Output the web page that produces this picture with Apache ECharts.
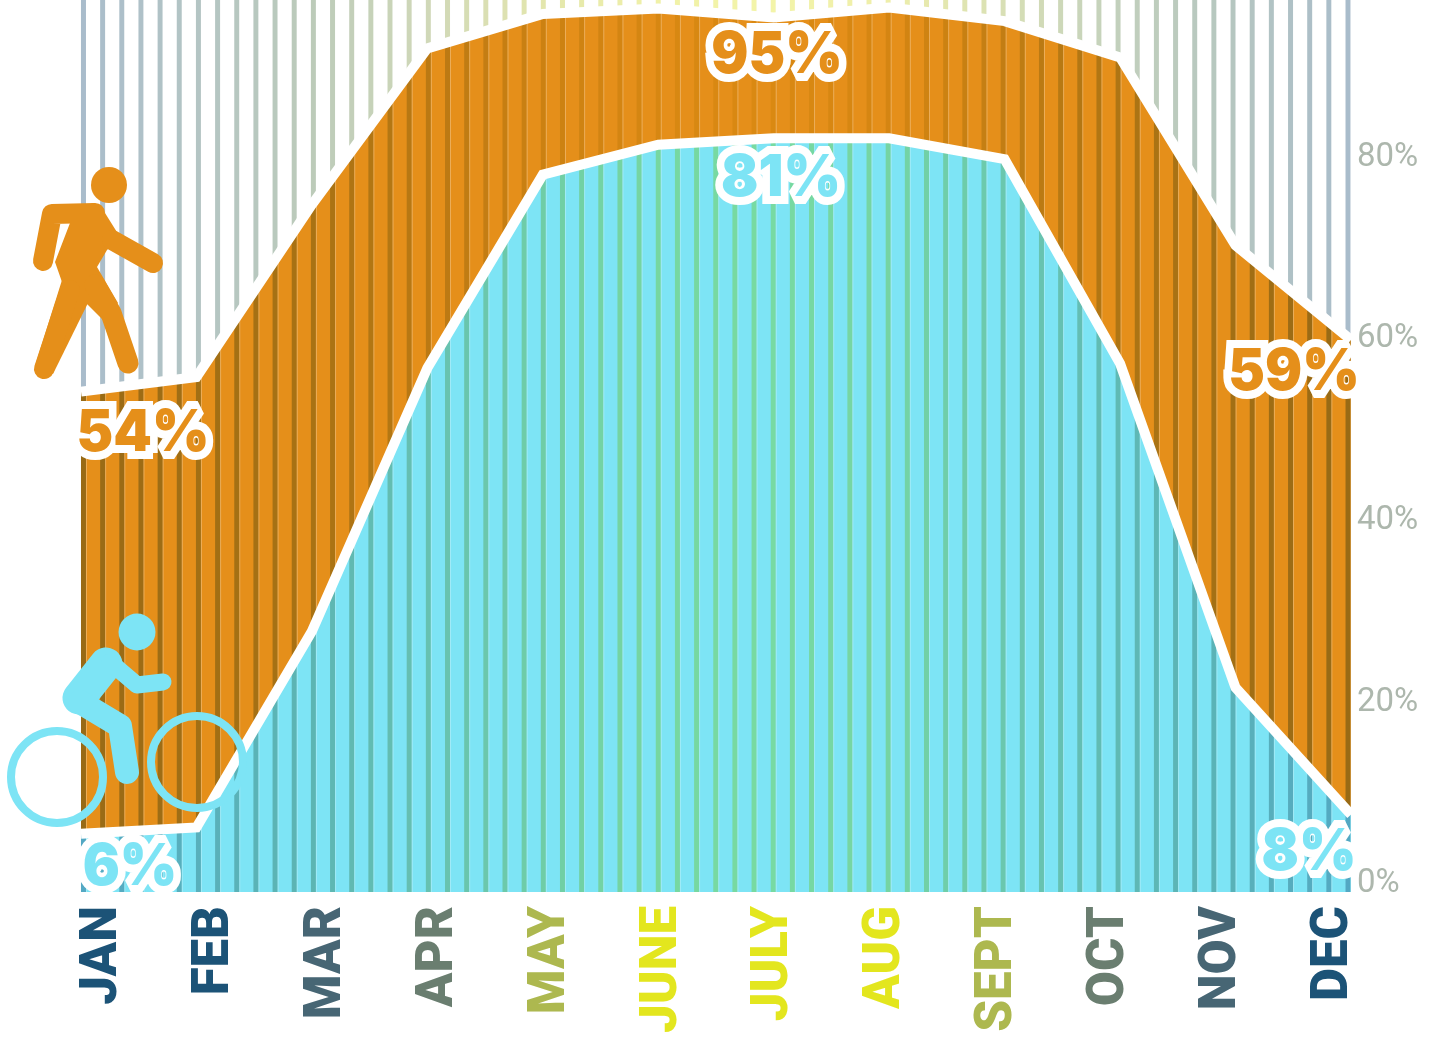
<!DOCTYPE html>
<html>
<head>
<meta charset="utf-8">
<style>
html,body{margin:0;padding:0;background:#fff}
#main{width:1437px;height:1044px}
</style>
<script src="https://cdn.jsdelivr.net/npm/echarts@6/dist/echarts.min.js"></script>
</head>
<body>
<div id="main"></div>
<script>
var months=['JAN','FEB','MAR','APR','MAY','JUNE','JULY','AUG','SEPT','OCT','NOV','DEC']
var walkValues=[53.9,55.5,74.5,91.7,95.5,96.1,95.1,96.2,94.7,90.7,70,59.6]
var bikeValues=[5.2,5.9,27.5,56.5,77.8,81.1,81.8,81.8,79.5,57,21.3,7.3]
var yTicks=[0,20,40,60,80]
var monthColours=['#1c5377','#1c5377','#476674','#6a7e70','#adb84f','#e3e61e','#e3e61e','#e3e61e','#adb84f','#6a7e70','#476674','#1c5377']
var stripeAnchors=['#a9bccb','#b4c5c4','#bccbb9','#d0d8b8','#e3e6ad','#f0f1a8','#f3f4a9','#eeeeaa','#d8dfb5','#c2d0bc','#b5c6c0','#a9bccb']
var stripeCount=67
var orange='#e58f1a'
var cyan='#7de4f5'

var stripeCats=[]
var stripeHeights=[]
for(var i=0;i<stripeCount;i++){
	stripeCats[i]=i
	stripeHeights[i]=100
}
function hex(c){
	return [parseInt(c.substr(1,2),16),parseInt(c.substr(3,2),16),parseInt(c.substr(5,2),16)]
}
//stripe colour runs between the anchors, one per month
function stripeColour(p){
	var t=p.dataIndex/(stripeCount-1)*(months.length-1)
	var a=Math.floor(t)
	var b=Math.min(a+1,months.length-1)
	var ca=hex(stripeAnchors[a]),cb=hex(stripeAnchors[b])
	var f=t-a
	return 'rgb('+Math.round(ca[0]+(cb[0]-ca[0])*f)+','+Math.round(ca[1]+(cb[1]-ca[1])*f)+','+Math.round(ca[2]+(cb[2]-ca[2])*f)+')'
}
function pct(text,x,y,color){
	return {type:'text',x:x,y:y,z:20,scaleX:0.95,style:{text:text,fill:color,stroke:'#fff',lineWidth:16,strokeFirst:true,
		font:'900 58px Inter',textAlign:'center',textVerticalAlign:'middle'}}
}
function limb(points,width,color){
	return {type:'polyline',z:15,shape:{points:points},style:{fill:null,stroke:color,lineWidth:width,lineCap:'round',lineJoin:'round'}}
}
function blob(points,color){
	return {type:'polygon',z:15,shape:{points:points},style:{fill:color}}
}
function ring(x,y){
	return {type:'circle',z:15,shape:{cx:x,cy:y,r:46},style:{fill:null,stroke:cyan,lineWidth:8}}
}
function dot(x,y,r,color){
	return {type:'circle',z:15,shape:{cx:x,cy:y,r:r},style:{fill:color}}
}
var mychart=echarts.init(document.getElementById('main'))
var option={
	animation:false,
	backgroundColor:'#fff',
	grid:[
		{left:81,top:0,width:1270,height:892},
		{left:74.4,top:0,width:1283.7,height:892},
		{left:103,top:800,width:1231.5,height:92}
	],
	xAxis:[
		{gridIndex:0,type:'category',boundaryGap:false,data:months,show:false},
		{gridIndex:1,type:'category',data:stripeCats,show:false},
		{gridIndex:2,type:'category',boundaryGap:false,data:months,
			axisLine:{show:false},axisTick:{show:false},
			axisLabel:{interval:0,rotate:90,margin:14,fontFamily:'Roboto',fontWeight:900,fontSize:51,
				textBorderWidth:2.5,textBorderColor:'inherit',
				color:function(v,i){return monthColours[i]}}}
	],
	yAxis:[
		{gridIndex:0,type:'value',position:'right',min:-1.21,max:97.03,
			axisLine:{show:false},axisTick:{show:false},splitLine:{show:false},
			axisLabel:{customValues:yTicks,formatter:'{value}%',margin:6,verticalAlign:'top',lineHeight:6,color:'#adb7ad',fontFamily:'Roboto',fontWeight:400,fontSize:33}},
		{gridIndex:1,type:'value',min:0,max:100,show:false},
		{gridIndex:2,type:'value',show:false}
	],
	series:[
		{name:'walk',type:'line',xAxisIndex:0,yAxisIndex:0,data:walkValues,z:1,symbol:'none',
			lineStyle:{width:0},areaStyle:{color:orange,opacity:1,origin:'start'}},
		{name:'bike',type:'line',xAxisIndex:0,yAxisIndex:0,data:bikeValues,z:2,symbol:'none',
			lineStyle:{width:0},areaStyle:{color:cyan,opacity:1,origin:'start'}},
		{name:'stripes',type:'bar',xAxisIndex:1,yAxisIndex:1,data:stripeHeights,z:3,barWidth:5,barGap:0,
			blendMode:'multiply',itemStyle:{color:stripeColour}},
		{name:'stripes light',type:'bar',xAxisIndex:1,yAxisIndex:1,data:stripeHeights,z:4,barWidth:1,barGap:0,
			itemStyle:{color:'rgba(255,255,255,0.28)'}},
		{name:'walk line',type:'line',xAxisIndex:0,yAxisIndex:0,data:walkValues,z:5,symbol:'none',
			lineStyle:{color:'#fff',width:10,join:'miter',cap:'butt'}},
		{name:'bike line',type:'line',xAxisIndex:0,yAxisIndex:0,data:bikeValues,z:5,symbol:'none',
			lineStyle:{color:'#fff',width:10,join:'miter',cap:'butt'}}
	],
	graphic:[
		pct('54%',143,434,orange),
		pct('95%',777,56,orange),
		pct('81%',781,179,cyan),
		pct('59%',1294,373,orange),
		pct('6%',130,868,cyan),
		pct('8%',1309,853,cyan),
		//walker
		dot(109,185,18,orange),
		limb([[95,213],[52,214],[43,261]],20,orange),
		blob([[92,203],[100,205],[120,237],[107,250],[97,267],[118,303],[103,320],[86,303],[62,282],[55,262],[70,223]],orange),
		limb([[112,240],[153,263]],20,orange),
		blob([[62,280],[88,303],[53,374],[35,366]],orange),
		limb([[70,290],[44,369]],20,orange),
		limb([[95,285],[111,313],[128,363]],21,orange),
		//cyclist
		dot(137,632,18.5,cyan),
		limb([[106,664],[79,698]],33,cyan),
		limb([[110,662],[137,685],[163,682]],17,cyan),
		limb([[80,702],[120,726],[127,772]],24,cyan),
		ring(57,777),
		ring(197,762)
	]
}
mychart.setOption(option)
//echarts does not pass lineJoin to the text spans, so round the outlines here
var zr=mychart.getZr()
zr.storage.getDisplayList(true).forEach(function(el){
	if(el.style&&el.style.text&&el.style.stroke==='#fff'){el.style.lineJoin='round'}
})
zr.refresh()
</script>
</body>
</html>
